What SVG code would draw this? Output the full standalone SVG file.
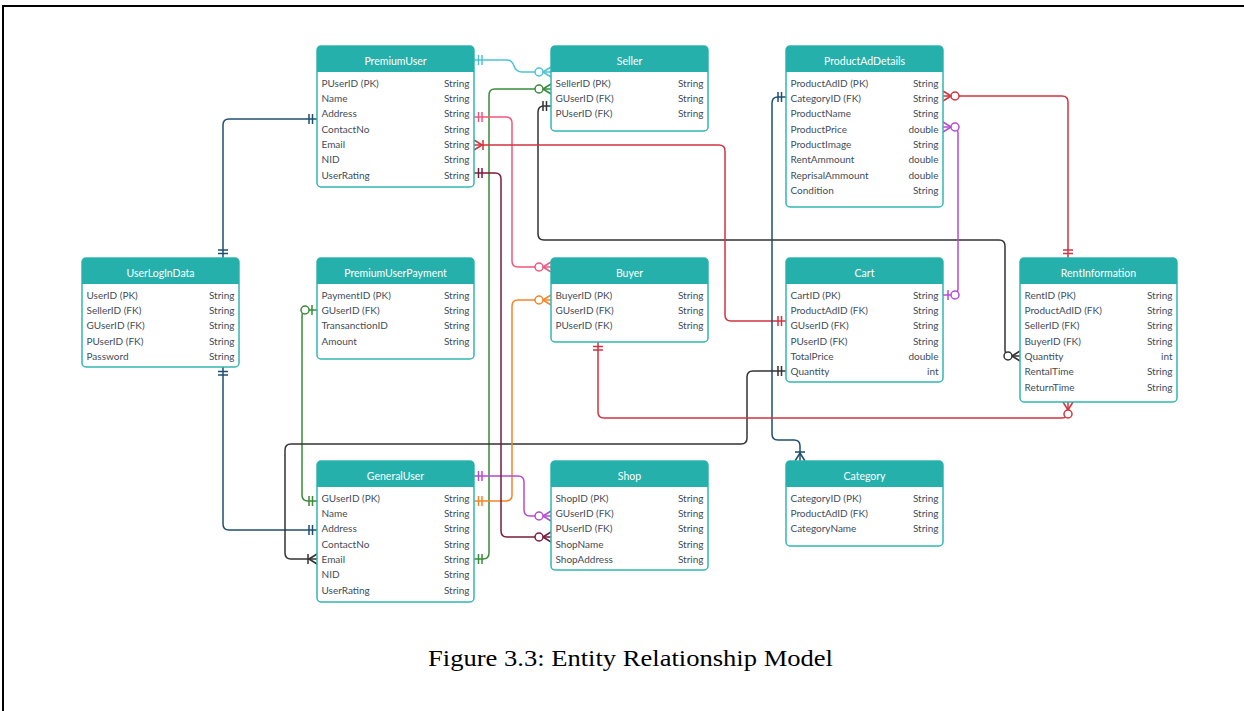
<svg xmlns="http://www.w3.org/2000/svg" width="1244" height="711" viewBox="0 0 1244 711">
<style>
.box{fill:#fff;stroke:#35b6b1;stroke-width:1.5}
.hdr{fill:#25b0ac}
.ht{font-family:Lato,"Liberation Sans",sans-serif;font-size:10.5px;fill:#fff;text-anchor:middle}
.r{font-family:Lato,"Liberation Sans",sans-serif;font-size:10px;fill:#3f4d59}
.t{font-family:Lato,"Liberation Sans",sans-serif;font-size:10px;fill:#3f4d59;text-anchor:end}
.ln{fill:none;stroke:currentColor;stroke-width:1.5}
.mk{fill:none;stroke:currentColor;stroke-width:1.5}
.mk circle{fill:#fff}
.cy{color:#4cc2d8}
.gr{color:#3a8a3a}
.bk{color:#333333}
.pk{color:#f3567c}
.rd{color:#cf3540}
.pu{color:#b64bd4}
.db{color:#1f4f70}
.or{color:#f5842a}
.mr{color:#7a1c3c}
.cap{font-family:"Liberation Serif",serif;font-size:24px;fill:#000;text-anchor:middle}
</style>
<defs>
<g id="oo" class="mk"><path d="M-4.5,-5V5M-8,-5V5"/></g>
<g id="zm" class="mk"><path d="M-8,0L0,-5M-8,0L0,5"/><circle cx="-12" cy="0" r="4"/></g>
<g id="om" class="mk"><path d="M-8,0L0,-5M-8,0L0,5M-9,-5V5"/></g>
<g id="zo" class="mk"><path d="M-5,-5V5"/><circle cx="-12" cy="0" r="4"/></g>
</defs>
<rect width="1244" height="711" fill="#fff"/>
<path d="M3,711V6H1244" fill="none" stroke="#000" stroke-width="2"/>

<g id="connectors">
<g class="cy"><path class="ln" d="M474,60H507Q512,60 514,66Q516,72 522,72H551"/><use href="#oo" transform="translate(474,60) rotate(180)"/><use href="#zm" transform="translate(551,72)"/></g>
<g class="gr"><path class="ln" d="M551,89H495Q489,89 489,95V553Q489,559 483,559H474"/><use href="#zm" transform="translate(551,89)"/><use href="#oo" transform="translate(474,559) rotate(180)"/></g>
<g class="gr"><path class="ln" d="M317,310H308Q302,310 302,316V495Q302,501 308,501H317"/><use href="#zo" transform="translate(317,310)"/><use href="#oo" transform="translate(317,501)"/></g>
<g class="bk"><path class="ln" d="M551,106H544Q538,106 538,112V234Q538,240 544,240H999Q1005,240 1005,246V350Q1005,356 1011,356H1020"/><use href="#oo" transform="translate(551,106)"/><use href="#zm" transform="translate(1020,356)"/></g>
<g class="pk"><path class="ln" d="M474,117H506Q512,117 512,123V261Q512,267 518,267H551"/><use href="#oo" transform="translate(474,117) rotate(180)"/><use href="#zm" transform="translate(551,267)"/></g>
<g class="rd"><path class="ln" d="M474,145H719Q725,145 725,151V315Q725,321 731,321H786"/><use href="#om" transform="translate(474,145) rotate(180)"/><use href="#oo" transform="translate(786,321)"/></g>
<g class="rd"><path class="ln" d="M943,96H1062Q1068,96 1068,102V258"/><use href="#zm" transform="translate(943,96) rotate(180)"/><use href="#oo" transform="translate(1068,258) rotate(90)"/></g>
<g class="pu"><path class="ln" d="M943,127H952Q958,127 958,133V289Q958,295 952,295H943"/><use href="#zm" transform="translate(943,127) rotate(180)"/><use href="#zo" transform="translate(943,295) rotate(180)"/></g>
<g class="db"><path class="ln" d="M786,97H778Q772,97 772,103V434Q772,440 778,440H794Q800,440 800,446V461"/><use href="#oo" transform="translate(786,97)"/><use href="#om" transform="translate(800,461) rotate(90)"/></g>
<g class="db"><path class="ln" d="M223,258V125Q223,119 229,119H317"/><use href="#oo" transform="translate(223,258) rotate(90)"/><use href="#oo" transform="translate(317,119)"/></g>
<g class="db"><path class="ln" d="M223,367V524Q223,530 229,530H317"/><use href="#oo" transform="translate(223,367) rotate(-90)"/><use href="#oo" transform="translate(317,530)"/></g>
<g class="bk"><path class="ln" d="M786,371H753Q747,371 747,377V438Q747,444 741,444H291Q285,444 285,450V553Q285,559 291,559H317"/><use href="#oo" transform="translate(786,371)"/><use href="#om" transform="translate(317,559)"/></g>
<g class="rd"><path class="ln" d="M598,342V412Q598,418 604,418H1062Q1068,418 1068,412V402"/><use href="#oo" transform="translate(598,342) rotate(-90)"/><use href="#zm" transform="translate(1068,402) rotate(-90)"/></g>
<g class="or"><path class="ln" d="M474,501H506Q512,501 512,495V306Q512,300 518,300H551"/><use href="#oo" transform="translate(474,501) rotate(180)"/><use href="#zm" transform="translate(551,300)"/></g>
<g class="pu"><path class="ln" d="M474,476H518Q524,476 524,482V510Q524,516 530,516H551"/><use href="#oo" transform="translate(474,476) rotate(180)"/><use href="#zm" transform="translate(551,516)"/></g>
<g class="mr"><path class="ln" d="M474,173H495Q501,173 501,179V531Q501,537 507,537H551"/><use href="#oo" transform="translate(474,173) rotate(180)"/><use href="#zm" transform="translate(551,537)"/></g>
</g>

<g id="PremiumUser" transform="translate(317,46)">
<rect class="box" width="157" height="141" rx="4"/>
<path class="hdr" d="M0,26V4Q0,0 4,0H153Q157,0 157,4V26Z"/>
<text class="ht" x="78.5" y="18.5">PremiumUser</text>
<text class="r" x="4.5" y="40.5">PUserID (PK)</text><text class="t" x="152.5" y="40.5">String</text>
<text class="r" x="4.5" y="55.9">Name</text><text class="t" x="152.5" y="55.9">String</text>
<text class="r" x="4.5" y="71.2">Address</text><text class="t" x="152.5" y="71.2">String</text>
<text class="r" x="4.5" y="86.6">ContactNo</text><text class="t" x="152.5" y="86.6">String</text>
<text class="r" x="4.5" y="101.9">Email</text><text class="t" x="152.5" y="101.9">String</text>
<text class="r" x="4.5" y="117.3">NID</text><text class="t" x="152.5" y="117.3">String</text>
<text class="r" x="4.5" y="132.6">UserRating</text><text class="t" x="152.5" y="132.6">String</text>
</g>

<g id="Seller" transform="translate(551,46)">
<rect class="box" width="157" height="85" rx="4"/>
<path class="hdr" d="M0,26V4Q0,0 4,0H153Q157,0 157,4V26Z"/>
<text class="ht" x="78.5" y="18.5">Seller</text>
<text class="r" x="4.5" y="40.5">SellerID (PK)</text><text class="t" x="152.5" y="40.5">String</text>
<text class="r" x="4.5" y="55.9">GUserID (FK)</text><text class="t" x="152.5" y="55.9">String</text>
<text class="r" x="4.5" y="71.2">PUserID (FK)</text><text class="t" x="152.5" y="71.2">String</text>
</g>

<g id="ProductAdDetails" transform="translate(786,46)">
<rect class="box" width="157" height="161" rx="4"/>
<path class="hdr" d="M0,26V4Q0,0 4,0H153Q157,0 157,4V26Z"/>
<text class="ht" x="78.5" y="18.5">ProductAdDetails</text>
<text class="r" x="4.5" y="40.5">ProductAdID (PK)</text><text class="t" x="152.5" y="40.5">String</text>
<text class="r" x="4.5" y="55.9">CategoryID (FK)</text><text class="t" x="152.5" y="55.9">String</text>
<text class="r" x="4.5" y="71.2">ProductName</text><text class="t" x="152.5" y="71.2">String</text>
<text class="r" x="4.5" y="86.6">ProductPrice</text><text class="t" x="152.5" y="86.6">double</text>
<text class="r" x="4.5" y="101.9">ProductImage</text><text class="t" x="152.5" y="101.9">String</text>
<text class="r" x="4.5" y="117.3">RentAmmount</text><text class="t" x="152.5" y="117.3">double</text>
<text class="r" x="4.5" y="132.6">ReprisalAmmount</text><text class="t" x="152.5" y="132.6">double</text>
<text class="r" x="4.5" y="148">Condition</text><text class="t" x="152.5" y="148">String</text>
</g>

<g id="UserLogInData" transform="translate(82,258)">
<rect class="box" width="157" height="109" rx="4"/>
<path class="hdr" d="M0,26V4Q0,0 4,0H153Q157,0 157,4V26Z"/>
<text class="ht" x="78.5" y="18.5">UserLogInData</text>
<text class="r" x="4.5" y="40.5">UserID (PK)</text><text class="t" x="152.5" y="40.5">String</text>
<text class="r" x="4.5" y="55.9">SellerID (FK)</text><text class="t" x="152.5" y="55.9">String</text>
<text class="r" x="4.5" y="71.2">GUserID (FK)</text><text class="t" x="152.5" y="71.2">String</text>
<text class="r" x="4.5" y="86.6">PUserID (FK)</text><text class="t" x="152.5" y="86.6">String</text>
<text class="r" x="4.5" y="101.9">Password</text><text class="t" x="152.5" y="101.9">String</text>
</g>

<g id="PremiumUserPayment" transform="translate(317,258)">
<rect class="box" width="157" height="101" rx="4"/>
<path class="hdr" d="M0,26V4Q0,0 4,0H153Q157,0 157,4V26Z"/>
<text class="ht" x="78.5" y="18.5">PremiumUserPayment</text>
<text class="r" x="4.5" y="40.5">PaymentID (PK)</text><text class="t" x="152.5" y="40.5">String</text>
<text class="r" x="4.5" y="55.9">GUserID (FK)</text><text class="t" x="152.5" y="55.9">String</text>
<text class="r" x="4.5" y="71.2">TransanctionID</text><text class="t" x="152.5" y="71.2">String</text>
<text class="r" x="4.5" y="86.6">Amount</text><text class="t" x="152.5" y="86.6">String</text>
</g>

<g id="Buyer" transform="translate(551,258)">
<rect class="box" width="157" height="84" rx="4"/>
<path class="hdr" d="M0,26V4Q0,0 4,0H153Q157,0 157,4V26Z"/>
<text class="ht" x="78.5" y="18.5">Buyer</text>
<text class="r" x="4.5" y="40.5">BuyerID (PK)</text><text class="t" x="152.5" y="40.5">String</text>
<text class="r" x="4.5" y="55.9">GUserID (FK)</text><text class="t" x="152.5" y="55.9">String</text>
<text class="r" x="4.5" y="71.2">PUserID (FK)</text><text class="t" x="152.5" y="71.2">String</text>
</g>

<g id="Cart" transform="translate(786,258)">
<rect class="box" width="157" height="124" rx="4"/>
<path class="hdr" d="M0,26V4Q0,0 4,0H153Q157,0 157,4V26Z"/>
<text class="ht" x="78.5" y="18.5">Cart</text>
<text class="r" x="4.5" y="40.5">CartID (PK)</text><text class="t" x="152.5" y="40.5">String</text>
<text class="r" x="4.5" y="55.9">ProductAdID (FK)</text><text class="t" x="152.5" y="55.9">String</text>
<text class="r" x="4.5" y="71.2">GUserID (FK)</text><text class="t" x="152.5" y="71.2">String</text>
<text class="r" x="4.5" y="86.6">PUserID (FK)</text><text class="t" x="152.5" y="86.6">String</text>
<text class="r" x="4.5" y="101.9">TotalPrice</text><text class="t" x="152.5" y="101.9">double</text>
<text class="r" x="4.5" y="117.3">Quantity</text><text class="t" x="152.5" y="117.3">int</text>
</g>

<g id="RentInformation" transform="translate(1020,258)">
<rect class="box" width="157" height="144" rx="4"/>
<path class="hdr" d="M0,26V4Q0,0 4,0H153Q157,0 157,4V26Z"/>
<text class="ht" x="78.5" y="18.5">RentInformation</text>
<text class="r" x="4.5" y="40.5">RentID (PK)</text><text class="t" x="152.5" y="40.5">String</text>
<text class="r" x="4.5" y="55.9">ProductAdID (FK)</text><text class="t" x="152.5" y="55.9">String</text>
<text class="r" x="4.5" y="71.2">SellerID (FK)</text><text class="t" x="152.5" y="71.2">String</text>
<text class="r" x="4.5" y="86.6">BuyerID (FK)</text><text class="t" x="152.5" y="86.6">String</text>
<text class="r" x="4.5" y="101.9">Quantity</text><text class="t" x="152.5" y="101.9">int</text>
<text class="r" x="4.5" y="117.3">RentalTime</text><text class="t" x="152.5" y="117.3">String</text>
<text class="r" x="4.5" y="132.6">ReturnTime</text><text class="t" x="152.5" y="132.6">String</text>
</g>

<g id="GeneralUser" transform="translate(317,461)">
<rect class="box" width="157" height="141" rx="4"/>
<path class="hdr" d="M0,26V4Q0,0 4,0H153Q157,0 157,4V26Z"/>
<text class="ht" x="78.5" y="18.5">GeneralUser</text>
<text class="r" x="4.5" y="40.5">GUserID (PK)</text><text class="t" x="152.5" y="40.5">String</text>
<text class="r" x="4.5" y="55.9">Name</text><text class="t" x="152.5" y="55.9">String</text>
<text class="r" x="4.5" y="71.2">Address</text><text class="t" x="152.5" y="71.2">String</text>
<text class="r" x="4.5" y="86.6">ContactNo</text><text class="t" x="152.5" y="86.6">String</text>
<text class="r" x="4.5" y="101.9">Email</text><text class="t" x="152.5" y="101.9">String</text>
<text class="r" x="4.5" y="117.3">NID</text><text class="t" x="152.5" y="117.3">String</text>
<text class="r" x="4.5" y="132.6">UserRating</text><text class="t" x="152.5" y="132.6">String</text>
</g>

<g id="Shop" transform="translate(551,461)">
<rect class="box" width="157" height="109" rx="4"/>
<path class="hdr" d="M0,26V4Q0,0 4,0H153Q157,0 157,4V26Z"/>
<text class="ht" x="78.5" y="18.5">Shop</text>
<text class="r" x="4.5" y="40.5">ShopID (PK)</text><text class="t" x="152.5" y="40.5">String</text>
<text class="r" x="4.5" y="55.9">GUserID (FK)</text><text class="t" x="152.5" y="55.9">String</text>
<text class="r" x="4.5" y="71.2">PUserID (FK)</text><text class="t" x="152.5" y="71.2">String</text>
<text class="r" x="4.5" y="86.6">ShopName</text><text class="t" x="152.5" y="86.6">String</text>
<text class="r" x="4.5" y="101.9">ShopAddress</text><text class="t" x="152.5" y="101.9">String</text>
</g>

<g id="Category" transform="translate(786,461)">
<rect class="box" width="157" height="85" rx="4"/>
<path class="hdr" d="M0,26V4Q0,0 4,0H153Q157,0 157,4V26Z"/>
<text class="ht" x="78.5" y="18.5">Category</text>
<text class="r" x="4.5" y="40.5">CategoryID (PK)</text><text class="t" x="152.5" y="40.5">String</text>
<text class="r" x="4.5" y="55.9">ProductAdID (FK)</text><text class="t" x="152.5" y="55.9">String</text>
<text class="r" x="4.5" y="71.2">CategoryName</text><text class="t" x="152.5" y="71.2">String</text>
</g>

<text class="cap" x="630.5" y="666" textLength="405" lengthAdjust="spacingAndGlyphs">Figure 3.3: Entity Relationship Model</text>
</svg>
